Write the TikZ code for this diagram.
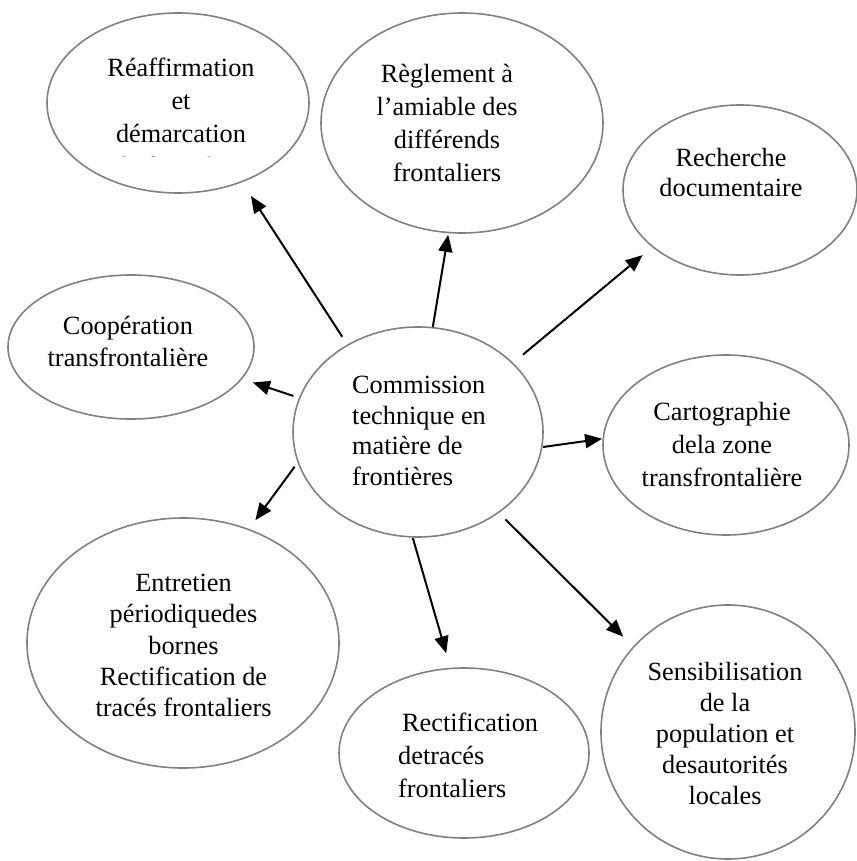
\documentclass[tikz,border=0pt]{standalone}
\usepackage{fontspec}
\setmainfont{Liberation Serif}
\usetikzlibrary{shapes.geometric,arrows.meta}
\definecolor{ellgray}{RGB}{128,128,128}
\tikzset{
  ell/.style={ellipse, draw=ellgray, line width=1.6pt, inner sep=0pt, outer sep=0pt},
  arr/.style={draw=black, line width=2pt, -{Triangle[length=17pt,width=14pt]}},
  lbl/.style={inner sep=0pt, font=\fontsize{26.3}{#1}\selectfont, align=center},
  lbl/.default=33,
}
\begin{document}
\begin{tikzpicture}[x=1pt,y=-1pt]
\useasboundingbox (0,0) rectangle (856,861);

% ellipses
\node[ell, minimum width=262pt, minimum height=180pt] (e1) at (178,103) {};
\node[ell, minimum width=282pt, minimum height=220pt] (e2) at (462,123) {};
\node[ell, minimum width=234pt, minimum height=170pt] (e3) at (740,190) {};
\node[ell, minimum width=246pt, minimum height=144pt] (e4) at (131,347) {};
\node[ell, minimum width=250pt, minimum height=210pt] (c)  at (418,432) {};
\node[ell, minimum width=246pt, minimum height=180pt] (e6) at (726,445) {};
\node[ell, minimum width=312pt, minimum height=250pt] (e7) at (183,643) {};
\node[ell, minimum width=250pt, minimum height=170pt] (e8) at (464,753) {};
\node[ell, minimum width=254pt, minimum height=254pt] (e9) at (728,732) {};

% texts
\begin{scope}
  \clip (40,0) rectangle (320,157);
  \node[lbl] (t1) at (181,116.5) {Réaffirmation\\et\\démarcation\\de frontières};
\end{scope}
\node[lbl] (t2) at (447,122.5) {Règlement à\\l’amiable des\\différends\\frontaliers};
\node[lbl=30] (t3) at (731,173) {Recherche\\documentaire};
\node[lbl=32] (t4) at (128,341) {Coopération\\transfrontalière};
\node[lbl=30.7, align=left, anchor=west] (tc) at (352,431) {Commission\\technique en\\matière de\\frontières};
\node[lbl] (t6) at (722,444) {Cartographie\\dela zone\\transfrontalière};
\node[lbl=31.25] (t7) at (183.5,645.5) {Entretien\\périodiquedes\\bornes\\Rectification de\\tracés frontaliers};
\node[lbl, align=left, anchor=west] (t8) at (398,755) {\hspace{4pt}Rectification\\detracés\\frontaliers};
\node[lbl=31] (t9) at (725,733) {Sensibilisation\\de la\\population et\\desautorités\\locales};

% arrows
\draw[arr, shorten <=10pt, shorten >=17pt] (c.129.7) -- (e1.309.2);
\draw[arr, shorten <=0.5pt, shorten >=2.4pt] (c.82.4) -- (e2.263.9);
\draw[arr, shorten <=13.5pt, shorten >=13.2pt] (c.36.3) -- (e3.213.8);
\draw[arr, shorten <=6.7pt, shorten >=12pt] (c.164.4) -- (e4.344.0);
\draw[arr, shorten <=1.3pt, shorten >=1.2pt] (c.353.2) -- (e6.177.2);
\draw[arr, shorten <=6pt, shorten >=11.6pt] (c.194.8) -- (e7.60.6);
\draw[arr, shorten <=1pt, shorten >=15.8pt] (c.267.3) -- (e8.99.6);
\draw[arr, shorten <=9.9pt, shorten >=14.7pt] (c.315.3) -- (e9.138.4);
\end{tikzpicture}
\end{document}
